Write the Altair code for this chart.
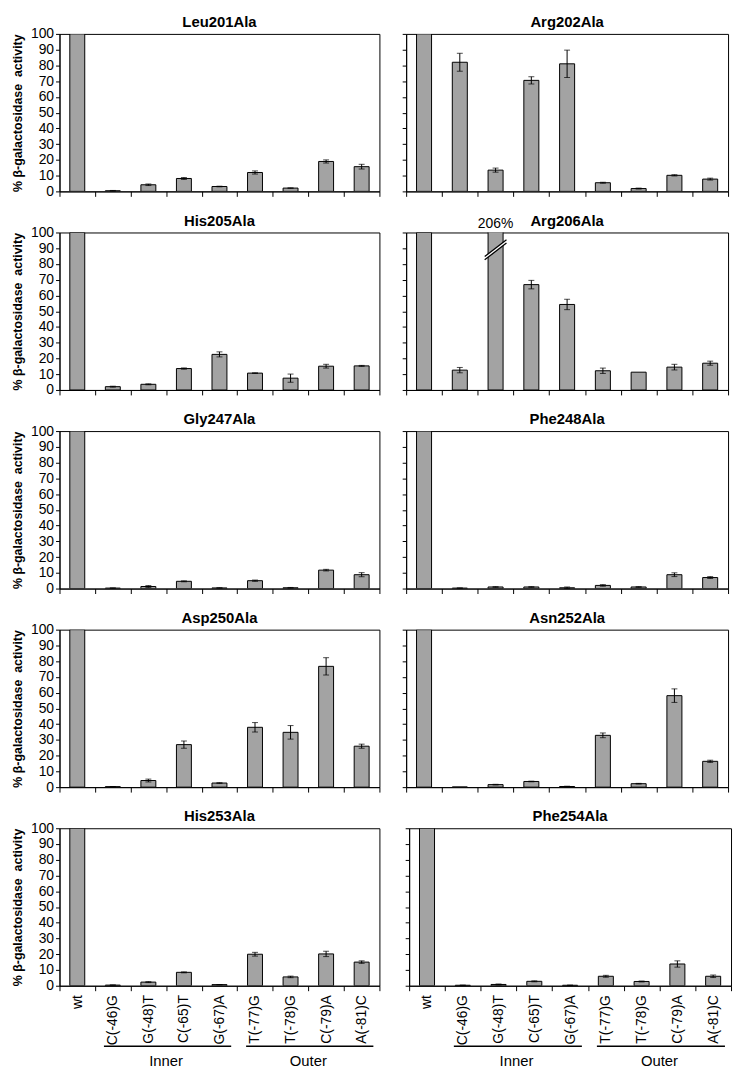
import altair as alt
import pandas as pd

FONT = "Liberation Sans"
BAR_FILL = "#a3a3a3"

categories = ["wt", "C(-46)G", "G(-48)T", "C(-65)T", "G(-67)A",
              "T(-77)G", "T(-78)G", "C(-79)A", "A(-81)C"]

leu201_vals = [100, 0.4, 4.2, 8.2, 3.1, 12.0, 2.1, 19.0, 15.7]
leu201_errs = [0, 0.2, 0.5, 0.6, 0.2, 1.0, 0.1, 1.0, 1.5]
arg202_vals = [100, 82.0, 13.5, 70.5, 81.0, 5.5, 1.8, 10.2, 7.8]
arg202_errs = [0, 5.7, 1.3, 2.3, 8.7, 0.3, 0.3, 0.4, 0.6]
his205_vals = [100, 2.1, 3.6, 13.6, 22.6, 10.7, 7.5, 15.1, 15.3]
his205_errs = [0, 0.3, 0.3, 0.4, 1.6, 0.2, 2.6, 1.2, 0.3]
arg206_vals = [100, 12.6, 206, 66.9, 54.3, 12.2, 11.3, 14.5, 17.0]
arg206_errs = [0, 1.7, 0, 2.7, 3.3, 1.7, 0, 1.8, 1.3]
gly247_vals = [100, 0.3, 1.3, 4.6, 0.4, 5.0, 0.5, 11.7, 8.8]
gly247_errs = [0, 0.1, 0.6, 0.3, 0.1, 0.4, 0.2, 0.5, 1.3]
phe248_vals = [100, 0.3, 1.0, 1.0, 0.5, 2.0, 1.0, 8.8, 7.0]
phe248_errs = [0, 0.1, 0.2, 0.2, 0.5, 0.5, 0.2, 1.2, 0.6]
asp250_vals = [100, 0.3, 4.2, 27.0, 2.6, 38.0, 34.8, 76.7, 26.0]
asp250_errs = [0, 0.1, 0.9, 2.3, 0.2, 3.0, 4.3, 5.5, 1.3]
asn252_vals = [100, 0.1, 1.6, 3.6, 0.4, 32.9, 2.2, 58.1, 16.4]
asn252_errs = [0, 0, 0.2, 0.2, 0.2, 1.5, 0.2, 4.3, 0.7]
his253_vals = [100, 0.4, 2.3, 8.5, 0.7, 20.0, 5.6, 20.2, 15.0]
his253_errs = [0, 0.1, 0.3, 0.3, 0.1, 1.2, 0.5, 1.7, 0.8]
phe254_vals = [100, 0.3, 0.8, 2.8, 0.3, 6.0, 2.7, 13.8, 6.0]
phe254_errs = [0, 0.1, 0.3, 0.3, 0.1, 0.6, 0.3, 2.0, 0.8]

y_ticks = [0, 10, 20, 30, 40, 50, 60, 70, 80, 90, 100]
y_title = "% \u03b2-galactosidase\u00a0 activity"

# axis-break annotation for the off-scale bar (Arg206Ala, G(-48)T = 206%)
break_cat = ["G(-48)T"]
break_val = [89]
break_label = ["206%"]

# group annotations under the bottom axis
group_names = ["Inner", "Outer"]
group_start = ["C(-46)G", "T(-77)G"]
group_end = ["G(-67)A", "A(-81)C"]
group_mid = ["C(-65)T", "C(-79)A"]

H = 159


def make_panel(title, vals, errs, left, bottom, width, with_break=False):
    df = pd.DataFrame({"cat": categories, "val": vals, "err": errs})
    df["lo"] = (df["val"] - df["err"]).clip(lower=0)
    df["hi"] = df["val"] + df["err"]
    eb = df[df["err"] > 0]

    xscale = alt.Scale(domain=categories, paddingInner=0, paddingOuter=0)
    yscale = alt.Scale(domain=[0, 100], nice=False, zero=True)

    xaxis = alt.Axis(title=None, labels=bottom, labelAngle=-90, labelFont=FONT,
                     labelFontSize=14, labelColor="black", labelPadding=4,
                     tickBand="extent", tickSize=5, tickColor="black",
                     domainColor="black", grid=False, labelOverlap=False)
    if left:
        yaxis = alt.Axis(values=y_ticks, labels=True, title=y_title,
                         titleFont=FONT, titleFontSize=12.5, titleFontWeight="bold",
                         titleColor="black", titlePadding=6,
                         labelFont=FONT, labelFontSize=14, labelColor="black",
                         labelPadding=2, tickSize=4, tickColor="black",
                         domainColor="black", grid=False)
    else:
        yaxis = alt.Axis(values=y_ticks, labels=False, title=None,
                         tickSize=4, tickColor="black",
                         domainColor="black", grid=False)

    def X(field, **kw):
        return alt.X(field, scale=xscale, axis=xaxis, sort=categories, **kw)

    def Y(field):
        return alt.Y(field, scale=yscale, axis=yaxis)

    bars = alt.Chart(df).mark_bar(
        fill=BAR_FILL, stroke="black", strokeWidth=1, clip=True,
        width=alt.RelativeBandSize(0.42)
    ).encode(x=X("cat:N"), y=Y("val:Q"))
    rules = alt.Chart(eb).mark_rule(color="black", strokeWidth=1).encode(
        x=X("cat:N"), y=Y("lo:Q"), y2="hi:Q")
    cap_lo = alt.Chart(eb).mark_tick(color="black", thickness=1, size=6).encode(
        x=X("cat:N"), y=Y("lo:Q"))
    cap_hi = alt.Chart(eb).mark_tick(color="black", thickness=1, size=6).encode(
        x=X("cat:N"), y=Y("hi:Q"))

    tdf = pd.DataFrame({"title": [title]})
    ttl = alt.Chart(tdf).mark_text(
        font=FONT, fontSize=15, fontWeight="bold", color="black",
        baseline="bottom", align="center"
    ).encode(x=alt.value(width / 2), y=alt.value(-4), text="title:N")

    layers = [bars, rules, cap_lo, cap_hi, ttl]

    if with_break:
        bdf = pd.DataFrame({"cat": break_cat, "val": break_val, "label": break_label})
        gap = alt.Chart(bdf).mark_point(
            shape="M -1 0.62 L 1 -0.92 L 1 -0.62 L -1 0.92 Z",
            filled=True, fill="white", opacity=1, strokeWidth=0, size=484
        ).encode(x=X("cat:N"), y=Y("val:Q"))
        slashes = alt.Chart(bdf).mark_point(
            shape="M -1 0.62 L 1 -0.92 M -1 0.92 L 1 -0.62",
            filled=False, stroke="black", strokeWidth=1.3, opacity=1, size=484
        ).encode(x=X("cat:N"), y=Y("val:Q"))
        lab = alt.Chart(bdf).mark_text(
            font=FONT, fontSize=14, color="black", baseline="bottom", dy=-2
        ).encode(x=X("cat:N"), y=alt.value(0), text="label:N")
        layers += [gap, slashes, lab]

    if bottom:
        gdf = pd.DataFrame({"name": group_names, "start": group_start,
                            "end": group_end, "mid": group_mid})
        glines = alt.Chart(gdf).mark_rule(color="black", strokeWidth=1.5).encode(
            x=X("start:N", bandPosition=0.25),
            x2=alt.X2("end:N", bandPosition=0.83),
            y=alt.value(H + 61),
        )
        gtext = alt.Chart(gdf).mark_text(
            font=FONT, fontSize=15, color="black", baseline="middle"
        ).encode(
            x=X("mid:N", bandPosition=0),
            y=alt.value(H + 76),
            text="name:N",
        )
        layers += [glines, gtext]

    return alt.layer(*layers).properties(width=width, height=H)


panels = [
    ("Leu201Ala", leu201_vals, leu201_errs, "Arg202Ala", arg202_vals, arg202_errs),
    ("His205Ala", his205_vals, his205_errs, "Arg206Ala", arg206_vals, arg206_errs),
    ("Gly247Ala", gly247_vals, gly247_errs, "Phe248Ala", phe248_vals, phe248_errs),
    ("Asp250Ala", asp250_vals, asp250_errs, "Asn252Ala", asn252_vals, asn252_errs),
    ("His253Ala", his253_vals, his253_errs, "Phe254Ala", phe254_vals, phe254_errs),
]

rows = []
for i, (lt, lv, le, rt, rv, re_) in enumerate(panels):
    bottom = i == len(panels) - 1
    lp = make_panel(lt, lv, le, True, bottom, 323)
    rp = make_panel(rt, rv, re_, False, bottom, 325, with_break=(rt == "Arg206Ala"))
    rows.append(alt.hconcat(lp, rp, spacing=21))

chart = alt.vconcat(*rows, spacing=13.5).configure_view(
    stroke="black", strokeWidth=1
).properties(
    padding={"left": 3, "top": 1, "right": 2, "bottom": 2},
    background="white",
)

chart.save("out.html", embed_options={"renderer": "svg", "actions": False})
